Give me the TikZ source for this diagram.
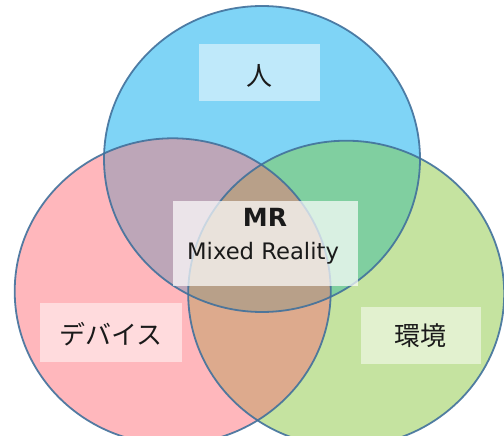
\documentclass[tikz,border=0pt]{standalone}
\usepackage{fontspec}
\setmainfont{DejaVu Sans}
\newfontfamily\jpfont{Noto Sans CJK JP}
\definecolor{cblue}{HTML}{7FD4F6}
\definecolor{cpink}{HTML}{FFB7BC}
\definecolor{cgreen}{HTML}{C5E3A0}
\definecolor{cbp}{HTML}{BDA6B8}
\definecolor{cbg}{HTML}{80CFA0}
\definecolor{cpg}{HTML}{DDAA8D}
\definecolor{call}{HTML}{B8A089}
\definecolor{cline}{HTML}{41719C}
\definecolor{ctext}{HTML}{1A1A1A}
\tikzset{
  rim/.style={draw=cline, line width=1.8pt, draw opacity=0.9},
  labelbox/.style={fill=white, fill opacity=0.5, draw=none},
  mrbox/.style={fill=white, fill opacity=0.7, draw=none},
  jplabel/.style={text=ctext, inner sep=0pt, font=\jpfont\fontsize{26}{30}\selectfont},
}
\begin{document}
\begin{tikzpicture}[x=1pt,y=-1pt]
\useasboundingbox (0,0) rectangle (504,436);
% base fills
\fill[cblue]  (262,159) ellipse [x radius=158pt, y radius=153pt];
\fill[cpink]  (172.7,291.3) ellipse [x radius=158pt, y radius=153pt];
\fill[cgreen] (346.2,293.7) ellipse [x radius=158pt, y radius=153pt];
% pairwise overlaps
\begin{scope}
  \clip (262,159) ellipse [x radius=158pt, y radius=153pt];
  \fill[cbp] (172.7,291.3) ellipse [x radius=158pt, y radius=153pt];
  \fill[cbg] (346.2,293.7) ellipse [x radius=158pt, y radius=153pt];
\end{scope}
\begin{scope}
  \clip (172.7,291.3) ellipse [x radius=158pt, y radius=153pt];
  \fill[cpg] (346.2,293.7) ellipse [x radius=158pt, y radius=153pt];
\end{scope}
\begin{scope}
  \clip (262,159) ellipse [x radius=158pt, y radius=153pt];
  \clip (172.7,291.3) ellipse [x radius=158pt, y radius=153pt];
  \fill[call] (346.2,293.7) ellipse [x radius=158pt, y radius=153pt];
\end{scope}
% outlines
\draw[rim] (262,159) ellipse [x radius=158pt, y radius=153pt];
\draw[rim] (172.7,291.3) ellipse [x radius=158pt, y radius=153pt];
\draw[rim] (346.2,293.7) ellipse [x radius=158pt, y radius=153pt];
% label boxes
\fill[labelbox] (198.6,44) rectangle (319.7,101.4);
\fill[mrbox] (172.9,200.7) rectangle (358,285.8);
\fill[labelbox] (40.3,303.4) rectangle (181.7,361.7);
\fill[labelbox] (360.7,306.8) rectangle (480.7,363.7);
% texts
\node[jplabel] (hito) at (259,76) {人};
\node[text=ctext, anchor=base, inner sep=0pt, font=\bfseries\fontsize{25}{30}\selectfont] (mr) at (265,226.4) {MR};
\node[text=ctext, anchor=base, inner sep=0pt, font=\fontsize{22.7}{27}\selectfont] (mixed) at (263,259.3) {Mixed Reality};
\node[jplabel] (device) at (110.7,334) {デバイス};
\node[jplabel] (env) at (420.5,336) {環境};
\end{tikzpicture}
\end{document}
